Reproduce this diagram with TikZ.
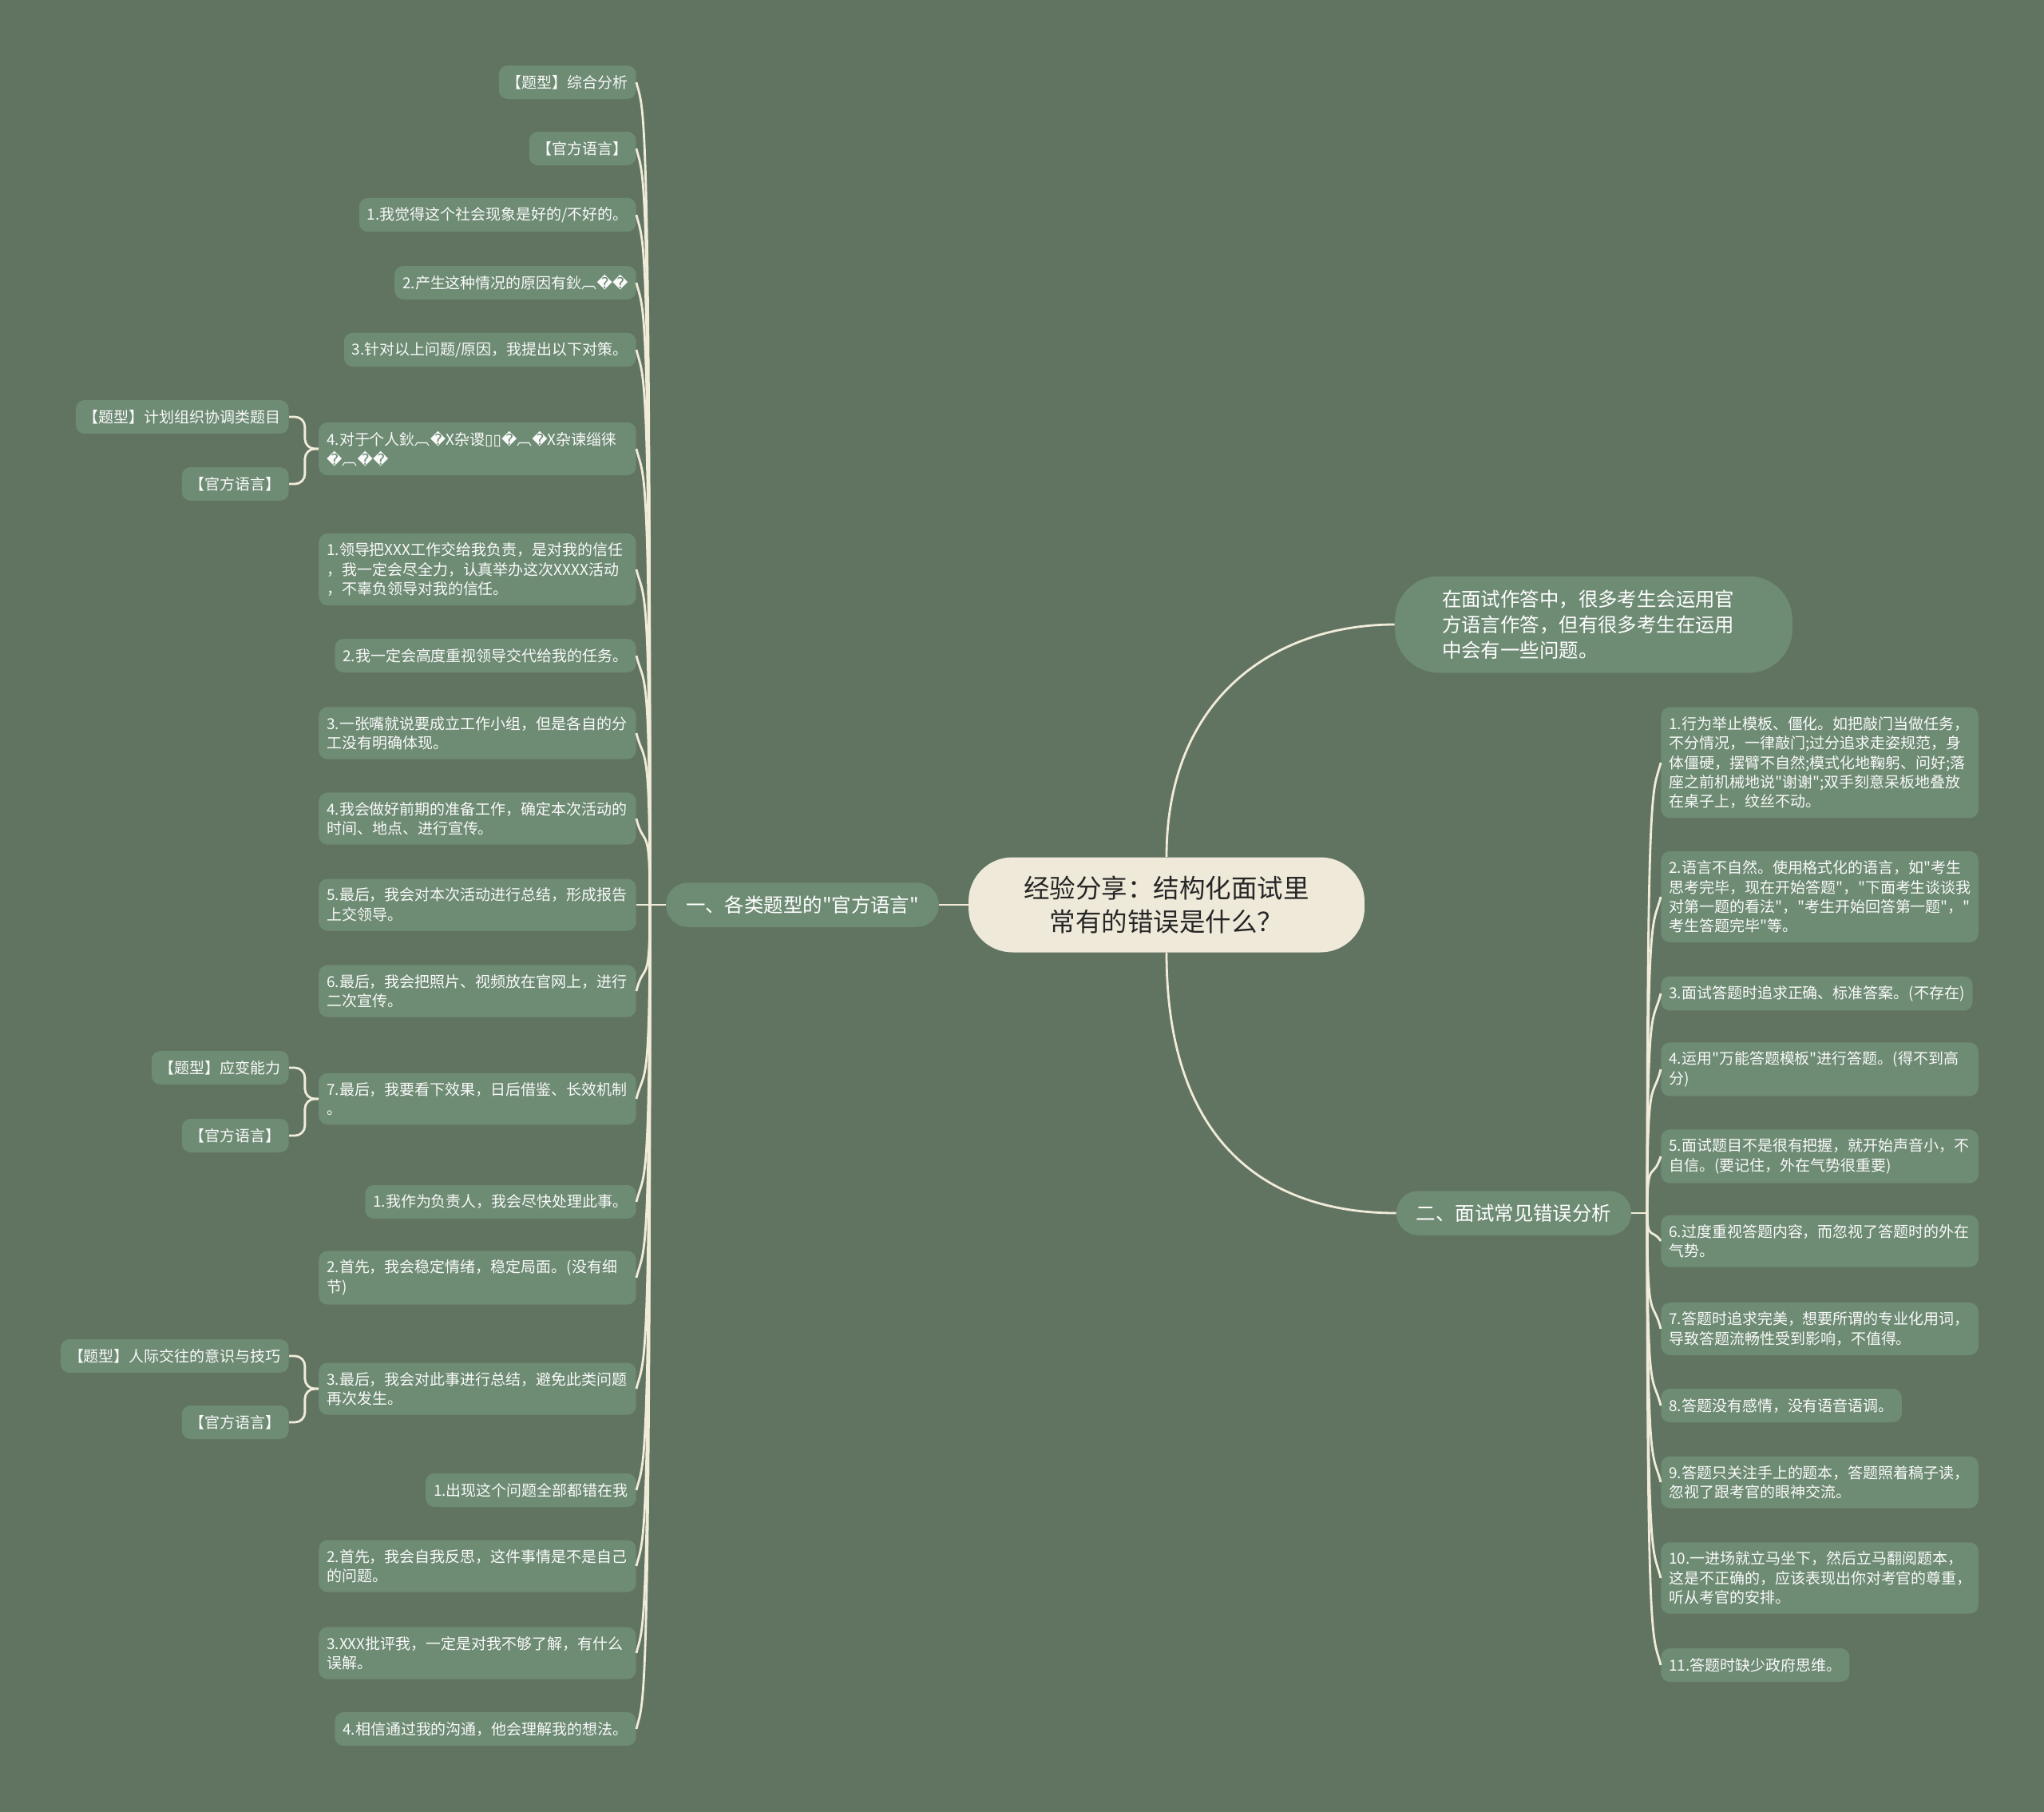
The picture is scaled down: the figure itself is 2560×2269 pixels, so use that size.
\documentclass[tikz,border=0pt]{standalone}
\usepackage{fontspec}
\newfontfamily\cjkfont{Noto Sans CJK SC}
\newfontfamily\replfont{DejaVu Sans}
\usetikzlibrary{calc}

\definecolor{bgc}{HTML}{617462}
\definecolor{leafc}{HTML}{6E8B74}
\definecolor{rootc}{HTML}{EFE9D9}
\definecolor{linkc}{HTML}{F1ECD9}
\newcommand{\rpl}{{\replfont �}}

\begin{document}
\cjkfont
\begin{tikzpicture}[
    x=0.02cm, y=-0.02cm,
    link/.style={draw=linkc, line width=1.6pt},
    root/.style={fill=rootc, text=black!85, rounded corners=1.1cm, minimum width=9.92cm,
      minimum height=2.38cm, align=center, font=\cjkfont\fontsize{18.5pt}{24pt}\selectfont},
    note/.style={fill=leafc, text=white, rounded corners=1.1cm, minimum width=9.96cm,
      minimum height=2.42cm, text width=7.6cm, align=left, font=\cjkfont\fontsize{13.9pt}{18.2pt}\selectfont},
    branch/.style={fill=leafc, text=white, rounded corners=0.55cm, minimum height=1.11cm,
      inner xsep=0.5cm, font=\cjkfont\fontsize{13.9pt}{18pt}\selectfont},
    leaf/.style={fill=leafc, text=white!96!leafc, rounded corners=0.22cm, inner xsep=0.2cm,
      inner ysep=0.23cm, minimum height=0.84cm, font=\cjkfont\fontsize{10.8pt}{13.9pt}\selectfont},
    para/.style={leaf, text width=7.55cm, align=left},
    lleaf/.style={leaf, anchor=east},
    lpara/.style={para, anchor=east},
    rleaf/.style={leaf, anchor=west},
    rpara/.style={para, anchor=west}
  ]
  \fill[bgc] (0,0) rectangle (2560,2269);
  \useasboundingbox (0,0) rectangle (2560,2269);

  \node[root] (root) at (1461,1133) {经验分享：结构化面试里\\常有的错误是什么？};
  \node[note] (top) at (1996,782) {在面试作答中，很多考生会运用官\\方语言作答，但有很多考生在运用\\中会有一些问题。};
  \node[branch] (b1) at (1005,1133) {一、各类题型的"官方语言"};
  \node[branch] (b2) at (1896,1519) {二、面试常见错误分析};
  \coordinate (JL) at (814,1133);
  \coordinate (JR) at (2063,1519);

  % left side
  \node[lleaf] (l1) at (797,103) {【题型】综合分析};
  \node[lleaf] (l2) at (797,186) {【官方语言】};
  \node[lleaf] (l3) at (797,269) {1.我觉得这个社会现象是好的/不好的。};
  \node[lleaf] (l4) at (797,354) {2.产生这种情况的原因有鈥︹\rpl\rpl};
  \node[lleaf] (l5) at (797,438) {3.针对以上问题/原因，我提出以下对策。};
  \node[lpara] (l6) at (797,562) {4.对于个人鈥︹\rpl X杂谡{\replfont ▯▯}\rpl︹\rpl X杂谏缁徕\\\rpl︹\rpl\rpl};
  \node[lpara] (l7) at (797,713) {1.领导把XXX工作交给我负责，是对我的信任\\，我一定会尽全力，认真举办这次XXXX活动\\，不辜负领导对我的信任。};
  \node[lleaf] (l8) at (797,821) {2.我一定会高度重视领导交代给我的任务。};
  \node[lpara] (l9) at (797,918) {3.一张嘴就说要成立工作小组，但是各自的分\\工没有明确体现。};
  \node[lpara] (l10) at (797,1025) {4.我会做好前期的准备工作，确定本次活动的\\时间、地点、进行宣传。};
  \node[lpara] (l11) at (797,1133) {5.最后，我会对本次活动进行总结，形成报告\\上交领导。};
  \node[lpara] (l12) at (797,1241) {6.最后，我会把照片、视频放在官网上，进行\\二次宣传。};
  \node[lpara] (l13) at (797,1376) {7.最后，我要看下效果，日后借鉴、长效机制\\。};
  \node[lleaf] (l14) at (797,1505) {1.我作为负责人，我会尽快处理此事。};
  \node[lpara] (l15) at (797,1600) {2.首先，我会稳定情绪，稳定局面。(没有细\\节)};
  \node[lpara] (l16) at (797,1739) {3.最后，我会对此事进行总结，避免此类问题\\再次发生。};
  \node[lleaf] (l17) at (797,1866) {1.出现这个问题全部都错在我};
  \node[lpara] (l18) at (797,1961) {2.首先，我会自我反思，这件事情是不是自己\\的问题。};
  \node[lpara] (l19) at (797,2070) {3.XXX批评我，一定是对我不够了解，有什么\\误解。};
  \node[lleaf] (l20) at (797,2165) {4.相信通过我的沟通，他会理解我的想法。};

  \node[lleaf] (c6a) at (362,522) {【题型】计划组织协调类题目};
  \node[lleaf] (c6b) at (362,606) {【官方语言】};
  \node[lleaf] (c13a) at (362,1337) {【题型】应变能力};
  \node[lleaf] (c13b) at (362,1422) {【官方语言】};
  \node[lleaf] (c16a) at (362,1698) {【题型】人际交往的意识与技巧};
  \node[lleaf] (c16b) at (362,1781) {【官方语言】};

  % right side
  \node[rpara] (r1) at (2080,955) {1.行为举止模板、僵化。如把敲门当做任务，\\不分情况，一律敲门;过分追求走姿规范，身\\体僵硬，摆臂不自然;模式化地鞠躬、问好;落\\座之前机械地说"谢谢";双手刻意呆板地叠放\\在桌子上，纹丝不动。};
  \node[rpara] (r2) at (2080,1123) {2.语言不自然。使用格式化的语言，如"考生\\思考完毕，现在开始答题"，"下面考生谈谈我\\对第一题的看法"，"考生开始回答第一题"，"\\考生答题完毕"等。};
  \node[rleaf] (r3) at (2080,1244) {3.面试答题时追求正确、标准答案。(不存在)};
  \node[rpara] (r4) at (2080,1339) {4.运用"万能答题模板"进行答题。(得不到高\\分)};
  \node[rpara] (r5) at (2080,1448) {5.面试题目不是很有把握，就开始声音小，不\\自信。(要记住，外在气势很重要)};
  \node[rpara] (r6) at (2080,1554) {6.过度重视答题内容，而忽视了答题时的外在\\气势。};
  \node[rpara] (r7) at (2080,1664) {7.答题时追求完美，想要所谓的专业化用词，\\导致答题流畅性受到影响，不值得。};
  \node[rleaf] (r8) at (2080,1760) {8.答题没有感情，没有语音语调。};
  \node[rpara] (r9) at (2080,1856) {9.答题只关注手上的题本，答题照着稿子读，\\忽视了跟考官的眼神交流。};
  \node[rpara] (r10) at (2080,1976) {10.一进场就立马坐下，然后立马翻阅题本，\\这是不正确的，应该表现出你对考官的尊重，\\听从考官的安排。};
  \node[rleaf] (r11) at (2080,2085) {11.答题时缺少政府思维。};

  % connectors
  \draw[link] (root.west) -- (b1.east);
  \draw[link] (b1.west) -- (JL);
  \draw[link] (b2.east) -- (JR);
  \draw[link] (root.north) .. controls +(0,-200) and +(-150,0) .. (top.west);
  \draw[link] (root.south) .. controls +(0,250) and +(-150,0) .. (b2.west);

  \foreach \n/\s in {l1/1,l2/1,l3/1,l4/1,l5/1,l6/1,l7/1,l8/1,l9/1,l10/1,
      l12/-1,l13/-1,l14/-1,l15/-1,l16/-1,l17/-1,l18/-1,l19/-1,l20/-1}
    \draw[link] (JL) .. controls (JL |- \n.east) and ($(\n.east)+(10,\s*40)$) .. (\n.east);
  \draw[link] (JL) -- (l11.east);

  \foreach \n/\s in {r1/1,r2/1,r3/1,r4/1,r5/0.8,r6/-0.4,r7/-1,r8/-1,r9/-1,r10/-1,r11/-1}
    \draw[link] (JR) .. controls (JR |- \n.west) and ($(\n.west)+(-10,\s*40)$) .. (\n.west);

  \foreach \p/\c in {l6/c6a,l6/c6b,l13/c13a,l13/c13b,l16/c16a,l16/c16b}
    \draw[link, rounded corners=0.25cm] (\p.west) -- ++(-17,0) |- (\c.east);

\end{tikzpicture}
\end{document}
